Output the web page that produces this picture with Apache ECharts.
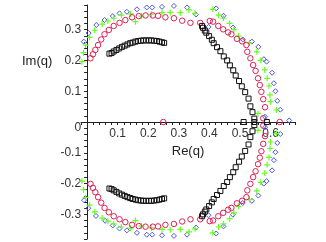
<!DOCTYPE html>
<html><head><meta charset="utf-8">
<script src="https://cdn.jsdelivr.net/npm/echarts@6/dist/echarts.min.js"></script>
<style>html,body{margin:0;padding:0;background:#fff}#c{width:326px;height:242px}</style>
</head><body><div id="c"></div>
<script>
// Data (Re(q), Im(q))
const blackUpper = [[0.073,0.222],[0.080,0.224],[0.087,0.229],[0.096,0.234],[0.105,0.239],[0.114,0.244],[0.123,0.248],[0.132,0.252],[0.141,0.256],[0.149,0.258],[0.158,0.261],[0.167,0.263],[0.176,0.264],[0.184,0.265],[0.193,0.265],[0.202,0.265],[0.210,0.265],[0.219,0.264],[0.228,0.263],[0.237,0.261],[0.245,0.259],[0.252,0.257],
 [0.376,0.312],[0.379,0.306],[0.385,0.297],[0.390,0.290],[0.399,0.279],[0.408,0.267],[0.414,0.256],[0.425,0.243],[0.436,0.230],[0.447,0.213],[0.458,0.200],[0.467,0.184],[0.478,0.168],[0.486,0.151],[0.497,0.133],[0.506,0.116],[0.517,0.097],[0.528,0.076],[0.534,0.051],[0.541,0.032],[0.547,0.011],
 [0.512,0],[0.547,0],[0.588,0]];
const blackLower = [[0.073,-0.216],[0.080,-0.218],[0.087,-0.222],[0.096,-0.227],[0.105,-0.232],[0.114,-0.236],[0.123,-0.240],[0.132,-0.244],[0.141,-0.247],[0.149,-0.250],[0.158,-0.252],[0.167,-0.254],[0.176,-0.255],[0.184,-0.256],[0.193,-0.256],[0.202,-0.256],[0.210,-0.256],[0.219,-0.255],[0.228,-0.254],[0.237,-0.252],[0.245,-0.250],[0.252,-0.248],
 [0.376,-0.306],[0.379,-0.300],[0.385,-0.291],[0.390,-0.284],[0.399,-0.273],[0.408,-0.261],[0.414,-0.250],[0.425,-0.237],[0.436,-0.224],[0.447,-0.208],[0.458,-0.195],[0.467,-0.179],[0.478,-0.163],[0.486,-0.147],[0.497,-0.129],[0.506,-0.112],[0.517,-0.094],[0.528,-0.073],[0.534,-0.049],[0.541,-0.030],[0.547,-0.010]];
const redUpper = [[0.011,0.207],[0.019,0.220],[0.027,0.234],[0.036,0.250],[0.046,0.268],[0.057,0.285],[0.071,0.299],[0.087,0.312],[0.106,0.322],[0.125,0.331],[0.147,0.340],[0.169,0.344],[0.191,0.346],[0.215,0.346],[0.232,0.345],[0.256,0.340],[0.284,0.337],[0.311,0.329],[0.338,0.322],[0.370,0.322],[0.401,0.328],[0.412,0.326],[0.429,0.312],[0.445,0.301],[0.461,0.291],[0.472,0.285],[0.490,0.270],[0.507,0.262],[0.521,0.250],[0.524,0.228],[0.534,0.207],[0.543,0.185],[0.551,0.166],[0.559,0.142],[0.565,0.120],[0.570,0.098],[0.576,0.074],[0.582,0.048],[0.576,0.012],[0.249,0],[0.630,0]];
const redLower = [[0.011,-0.201],[0.019,-0.214],[0.027,-0.228],[0.036,-0.244],[0.046,-0.262],[0.057,-0.279],[0.071,-0.293],[0.087,-0.306],[0.106,-0.316],[0.125,-0.325],[0.147,-0.334],[0.169,-0.338],[0.191,-0.340],[0.215,-0.340],[0.232,-0.339],[0.256,-0.334],[0.284,-0.331],[0.311,-0.323],[0.338,-0.316],[0.370,-0.316],[0.401,-0.322],[0.412,-0.320],[0.429,-0.306],[0.445,-0.295],[0.461,-0.285],[0.472,-0.279],[0.490,-0.264],[0.507,-0.256],[0.521,-0.244],[0.524,-0.222],[0.534,-0.201],[0.543,-0.179],[0.551,-0.160],[0.559,-0.137],[0.565,-0.116],[0.570,-0.095],[0.576,-0.071],[0.582,-0.046],[0.576,-0.012]];
const greenUpper = [[-0.017,0.196],[-0.012,0.225],[-0.005,0.250],[0.008,0.275],[0.025,0.298],[0.049,0.318],[0.068,0.328],[0.087,0.337],[0.112,0.347],[0.142,0.351],[0.158,0.326],[0.178,0.344],[0.210,0.350],[0.245,0.355],[0.272,0.356],[0.305,0.355],[0.333,0.364],[0.353,0.353],[0.411,0.366],[0.430,0.347],[0.446,0.337],[0.466,0.320],[0.480,0.300],[0.495,0.279],[0.531,0.257],[0.555,0.228],[0.568,0.200],[0.581,0.169],[0.589,0.142],[0.595,0.117],[0.598,0.088],[0.600,0.066],[0.619,0.039],[0.559,0.028]];
const greenLower = [[-0.017,-0.192],[-0.012,-0.220],[-0.005,-0.245],[0.008,-0.270],[0.025,-0.292],[0.049,-0.312],[0.068,-0.322],[0.087,-0.331],[0.112,-0.341],[0.142,-0.345],[0.158,-0.320],[0.178,-0.338],[0.210,-0.344],[0.245,-0.349],[0.272,-0.350],[0.305,-0.349],[0.333,-0.357],[0.353,-0.347],[0.411,-0.360],[0.430,-0.341],[0.446,-0.331],[0.466,-0.314],[0.480,-0.295],[0.495,-0.274],[0.531,-0.252],[0.555,-0.224],[0.568,-0.196],[0.581,-0.166],[0.589,-0.139],[0.595,-0.115],[0.598,-0.086],[0.600,-0.065],[0.619,-0.038],[0.559,-0.027]];
const blueUpper = [[-0.025,0.231],[-0.011,0.261],[0.005,0.289],[0.030,0.315],[0.057,0.331],[0.084,0.344],[0.106,0.353],[0.130,0.358],[0.163,0.366],[0.195,0.372],[0.213,0.372],[0.245,0.374],[0.284,0.377],[0.327,0.372],[0.356,0.349],[0.397,0.309],[0.422,0.369],[0.446,0.345],[0.477,0.307],[0.509,0.268],[0.539,0.261],[0.560,0.244],[0.578,0.204],[0.587,0.196],[0.605,0.160],[0.611,0.126],[0.616,0.100],[0.622,0.069],[0.632,0.040],[0.661,0.005],[0.582,0.017]];
const blueLower = [[-0.032,-0.183],[-0.023,-0.222],[-0.010,-0.254],[0.004,-0.280],[0.029,-0.305],[0.059,-0.321],[0.084,-0.336],[0.106,-0.346],[0.130,-0.352],[0.163,-0.360],[0.195,-0.366],[0.213,-0.366],[0.245,-0.368],[0.284,-0.370],[0.327,-0.366],[0.356,-0.343],[0.397,-0.303],[0.422,-0.362],[0.446,-0.339],[0.477,-0.301],[0.509,-0.263],[0.539,-0.256],[0.560,-0.239],[0.578,-0.200],[0.587,-0.192],[0.605,-0.157],[0.611,-0.124],[0.616,-0.098],[0.622,-0.068],[0.632,-0.039],[0.582,-0.017]];
const xRange = [-0.02, 0.68];
const yRange = [-0.38, 0.38];
const tickStep = 0.02;

const FONT = "'Liberation Sans', Arial, sans-serif";
const plus = 'path://M4,0L6,0L6,4L10,4L10,6L6,6L6,10L4,10L4,6L0,6L0,4L4,4Z';
// grid geometry
const G = {left: 81, right: 31, top: 5, bottom: 3};
const W = 326, H = 242;
const gw = W - G.left - G.right, gh = H - G.top - G.bottom;
// offsets that put each axis through the other's zero
const yAxisOffset = -gw * (0 - xRange[0]) / (xRange[1] - xRange[0]);
const xAxisOffset = -gh * (0 - yRange[0]) / (yRange[1] - yRange[0]);
function fmt(v) {
  if (Math.abs(v * 10 - Math.round(v * 10)) > 1e-6) return '';
  if (Math.abs(v) < 1e-9) return '';
  return String(Math.round(v * 10) / 10);
}
function fmtY(v) {
  if (Math.abs(v) < 1e-9) return '{z|0}';
  return fmt(v);
}
const chart = echarts.init(document.getElementById('c'), null, {renderer: 'canvas'});
function sc(data, symbol, size, fill, stroke, bw) {
  return {type: 'scatter', data: data, symbol: symbol, symbolSize: size, silent: true,
    itemStyle: {color: fill, borderColor: stroke, borderWidth: bw, opacity: 1}};
}
chart.setOption({
  animation: false,
  backgroundColor: '#fff',
  grid: {left: G.left, right: G.right, top: G.top, bottom: G.bottom, outerBoundsMode: 'none', containLabel: false},
  xAxis: {type: 'value', min: xRange[0], max: xRange[1], interval: tickStep,
    position: 'bottom', offset: xAxisOffset,
    name: 'Re(q)', nameLocation: 'middle', nameGap: 19,
    nameTextStyle: {fontFamily: FONT, fontSize: 13, color: '#222'},
    axisLine: {onZero: false, lineStyle: {color: '#222', width: 1}},
    axisTick: {length: 3, lineStyle: {color: '#222'}},
    axisLabel: {formatter: fmt, fontFamily: FONT, fontSize: 12, color: '#333', margin: 6, showMinLabel: true, showMaxLabel: true},
    splitLine: {show: false}},
  yAxis: {type: 'value', min: yRange[0], max: yRange[1], interval: tickStep,
    position: 'left', offset: yAxisOffset,
    axisLine: {onZero: false, lineStyle: {color: '#222', width: 1}},
    axisTick: {length: 3, lineStyle: {color: '#222'}},
    axisLabel: {formatter: fmtY, fontFamily: FONT, fontSize: 12, color: '#333', margin: 6,
      rich: {z: {fontFamily: FONT, fontSize: 12, color: '#333', padding: [12, 0, 0, 0]}}},
    splitLine: {show: false}},
  graphic: [{type: 'text', left: 22, top: 55, style: {text: 'Im(q)', font: '13px ' + FONT, fill: '#222'}}],
  series: [
    sc(blueUpper, 'diamond', 5, 'rgba(0,0,0,0)', '#4a55e0', 1),
    sc(blueLower, 'diamond', 5, 'rgba(0,0,0,0)', '#4a55e0', 1),
    sc(greenUpper, plus, 6, '#66ff22', '#66ff22', 0),
    sc(greenLower, plus, 6, '#66ff22', '#66ff22', 0),
    sc(redUpper, 'circle', 5.5, 'rgba(0,0,0,0)', '#dd2255', 1),
    sc(redLower, 'circle', 5.5, 'rgba(0,0,0,0)', '#dd2255', 1),
    sc(blackUpper, 'rect', 5, 'rgba(0,0,0,0)', '#111', 1),
    sc(blackLower, 'rect', 5, 'rgba(0,0,0,0)', '#111', 1)
  ]
});
</script></body></html>
